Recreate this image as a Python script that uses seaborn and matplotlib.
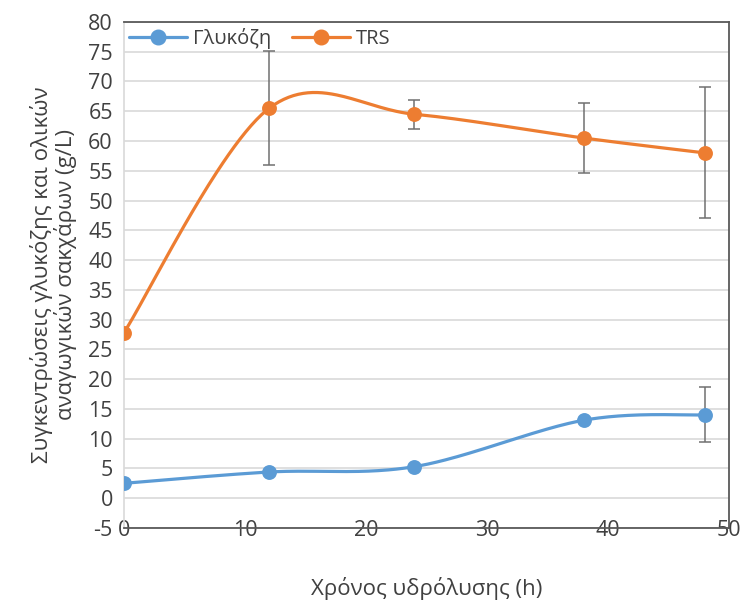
import numpy as np
import pandas as pd
import matplotlib
matplotlib.use("Agg")
import matplotlib.pyplot as plt
from matplotlib.lines import Line2D
import seaborn as sns

# Hydrolysis time (h)
time_h = [0, 12, 24, 38, 48]
# Glucose concentration (g/L) and its standard deviation
glucose = [2.5, 4.4, 5.3, 13.1, 14.0]
glucose_err = [0, 0, 0, 0, 4.6]
# Total reducing sugars (g/L) and its standard deviation
trs = [27.8, 65.5, 64.5, 60.5, 58.0]
trs_err = [0, 9.6, 2.4, 5.8, 11.0]

series_names = ["Γλυκόζη", "TRS"]
colors = ["#5B9BD5", "#ED7D31"]
y_ticks = list(range(-5, 81, 5))
x_ticks = list(range(0, 51, 10))


def smooth_curve(x, y, n=60):
    """Bezier smoothing through every point (tension 1/6 on neighbours)."""
    pts = np.column_stack([x, y]).astype(float)
    segs = []
    t = np.linspace(0, 1, n)[:, None]
    for i in range(len(pts) - 1):
        p0 = pts[i - 1] if i > 0 else pts[i]
        p1, p2 = pts[i], pts[i + 1]
        p3 = pts[i + 2] if i + 2 < len(pts) else pts[i + 1]
        c1 = p1 + (p2 - p0) / 6.0
        c2 = p2 - (p3 - p1) / 6.0
        seg = ((1 - t) ** 3) * p1 + 3 * ((1 - t) ** 2) * t * c1 \
            + 3 * (1 - t) * t ** 2 * c2 + t ** 3 * p2
        segs.append(seg if i == 0 else seg[1:])
    curve = np.vstack(segs)
    return curve[:, 0], curve[:, 1]


sns.set_theme(style="white")
plt.rcParams["font.family"] = ["Open Sans", "DejaVu Sans"]

fig = plt.figure(figsize=(7.42, 6.01), dpi=100)
ax = fig.add_axes([0.167, 0.1215, 0.8155, 0.842])

grid_c = "#D9D9D9"
frame_c = "#595959"
text_c = "#404040"
for yv in y_ticks:
    ax.axhline(yv, color=grid_c, lw=1.2, zorder=0)

for name, vals, errs, col in [
    (series_names[0], glucose, glucose_err, colors[0]),
    (series_names[1], trs, trs_err, colors[1]),
]:
    cx, cy = smooth_curve(time_h, vals)
    curve_df = pd.DataFrame({"x": cx, "y": cy})
    sns.lineplot(data=curve_df, x="x", y="y", sort=False, estimator=None,
                 color=col, lw=2.3, ax=ax, zorder=3, legend=False)
    idx = [i for i, e in enumerate(errs) if e > 0]
    ax.errorbar([time_h[i] for i in idx], [vals[i] for i in idx],
                yerr=[errs[i] for i in idx], fmt="none", ecolor="#707070",
                elinewidth=1.1, capsize=4.5, capthick=1.1, zorder=2)
    pts_df = pd.DataFrame({"x": time_h, "y": vals})
    sns.scatterplot(data=pts_df, x="x", y="y", color=col, s=115,
                    edgecolor=col, linewidth=0, ax=ax, zorder=4, legend=False)

ax.set_xlim(0, 50)
ax.set_ylim(-5, 80)
ax.set_xticks(x_ticks)
ax.set_yticks(y_ticks)
ax.set_xticklabels([str(v) for v in x_ticks])
ax.set_yticklabels([str(v) for v in y_ticks])
ax.tick_params(axis="both", length=0, labelsize=15.5, colors=text_c)
ax.tick_params(axis="x", pad=-6)
ax.tick_params(axis="y", pad=8)

for side in ["top", "right", "bottom"]:
    ax.spines[side].set_visible(True)
    ax.spines[side].set_color(frame_c)
    ax.spines[side].set_linewidth(1.3)
ax.spines["left"].set_color(grid_c)
ax.spines["left"].set_linewidth(1.2)

ax.set_xlabel("Χρόνος υδρόλυσης (h)", fontsize=16, color=text_c, labelpad=26)
ax.set_ylabel("Συγκεντρώσεις γλυκόζης και ολικών\nαναγωγικών σακχάρων (g/L)",
              fontsize=16, color=text_c, labelpad=8, linespacing=1.05)

handles = [Line2D([0], [0], color=c, lw=2.3, marker="o", markersize=10.5)
           for c in colors]
ax.legend(handles, series_names, loc="upper left", ncol=2, frameon=False,
          bbox_to_anchor=(-0.005, 1.003), fontsize=14.5, handlelength=2.9,
          handletextpad=0.3, columnspacing=1.0, borderaxespad=0.0,
          labelcolor=text_c)

fig.savefig("out.png", dpi=100, facecolor="white")
